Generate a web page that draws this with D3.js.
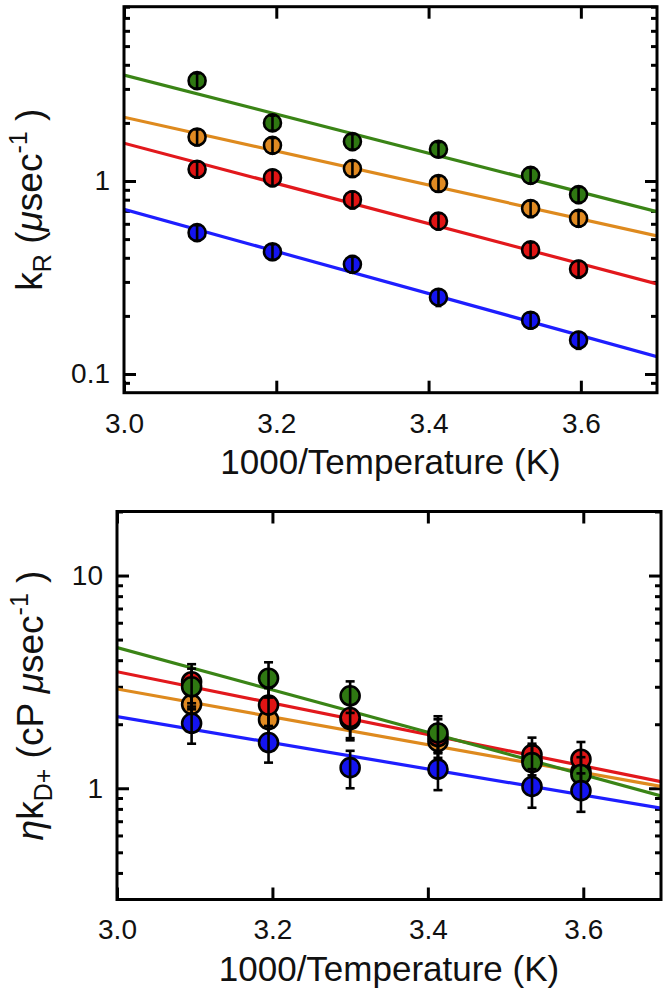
<!DOCTYPE html>
<html>
<head>
<meta charset="utf-8">
<script src="https://cdn.jsdelivr.net/npm/d3@7"></script>
<style>
  html, body { margin: 0; padding: 0; background: #fff; }
  svg { display: block; }
  text { font-family: "Liberation Sans", Arial, Helvetica, sans-serif; }
</style>
</head>
<body>
<svg id="chart" width="664" height="996"></svg>
<script>
// ---------- DATA ----------
const xTemp = [3.096, 3.195, 3.300, 3.413, 3.534, 3.597];   // 1000/T (K)
const seriesNames = ["green", "orange", "red", "blue"];
const seriesColors = { green: "#3a8416", orange: "#de8a1e", red: "#e2181c", blue: "#1e1eff" };
const fillColors   = { green: "#2f7812", orange: "#e08a22", red: "#e01414", blue: "#1414f0" };

// Top panel: k_R (usec^-1)
const kR_green  = [3.31, 2.00, 1.60, 1.46, 1.07, 0.85];
const kR_orange = [1.69, 1.53, 1.16, 0.97, 0.72, 0.64];
const kR_red    = [1.15, 1.04, 0.80, 0.62, 0.44, 0.35];
const kR_blue   = [0.54, 0.43, 0.37, 0.25, 0.19, 0.15];
const kRerr_green  = [0.30, 0.18, 0.15, 0.13, 0.10, 0.08];
const kRerr_orange = [0.16, 0.14, 0.11, 0.09, 0.07, 0.06];
const kRerr_red    = [0.11, 0.10, 0.08, 0.06, 0.04, 0.035];
const kRerr_blue   = [0.05, 0.04, 0.035, 0.025, 0.018, 0.015];
// fitted lines: values at x = 3.0 and x = 3.7
const fitX = [3.0, 3.7];
const kRfit_green  = [3.54, 0.693];
const kRfit_orange = [2.14, 0.519];
const kRfit_red    = [1.57, 0.293];
const kRfit_blue   = [0.713, 0.123];

// Bottom panel: eta*k_D+ (cP usec^-1)
const kD_green  = [3.00, 3.29, 2.72, 1.82, 1.32, 1.16];
const kD_orange = [2.48, 2.10, 2.10, 1.66, 1.35, 1.20];
const kD_red    = [3.17, 2.46, 2.15, 1.75, 1.44, 1.37];
const kD_blue   = [2.02, 1.64, 1.25, 1.23, 1.02, 0.975];
const kDerr_green  = [0.65, 0.62, 0.46, 0.36, 0.27, 0.24];
const kDerr_orange = [0.50, 0.42, 0.42, 0.34, 0.27, 0.24];
const kDerr_red    = [0.66, 0.50, 0.43, 0.36, 0.29, 0.28];
const kDerr_blue   = [0.40, 0.32, 0.25, 0.25, 0.21, 0.20];
const kDfit_green  = [4.59, 0.921];
const kDfit_orange = [2.93, 1.02];
const kDfit_red    = [3.53, 1.075];
const kDfit_blue   = [2.17, 0.806];

// Axes / ticks
const xDomain = [3.0, 3.7];
const xTickMajor = [3.0, 3.2, 3.4, 3.6];
const topYDomain = [0.08, 8];
const topYMajor = [0.1, 1];
const topYMinor = [0.09, 0.2, 0.3, 0.4, 0.5, 0.6, 0.7, 0.8, 0.9, 2, 3, 4, 5, 6, 7, 8];
const botYDomain = [0.3, 20];
const botYMajor = [1, 10];
const botYMinor = [0.4, 0.5, 0.6, 0.7, 0.8, 0.9, 2, 3, 4, 5, 6, 7, 8, 9, 20];

// ---------- DRAW ----------
const svg = d3.select("#chart");
const FONT = "'Liberation Sans', Arial, Helvetica, sans-serif";

function panel(cfg) {
  const { x0, x1, y0, y1 } = cfg;
  const x = d3.scaleLinear().domain(xDomain).range([x0, x1]);
  const y = d3.scaleLog().domain(cfg.yDomain).range([y1, y0]);
  const g = svg.append("g");
  const clipId = "clip" + cfg.id;
  svg.append("defs").append("clipPath").attr("id", clipId)
    .append("rect").attr("x", x0).attr("y", y0).attr("width", x1 - x0).attr("height", y1 - y0);

  // axes with inward ticks
  const axes = [
    { a: d3.axisLeft(y).tickValues(cfg.yMajor).tickSize(-12).tickPadding(14).tickFormat(d3.format("~g")), t: `translate(${x0},0)`, label: true },
    { a: d3.axisLeft(y).tickValues(cfg.yMinor).tickSize(-6).tickFormat(""), t: `translate(${x0},0)` },
    { a: d3.axisRight(y).tickValues(cfg.yMajor).tickSize(-12).tickFormat(""), t: `translate(${x1},0)` },
    { a: d3.axisRight(y).tickValues(cfg.yMinor).tickSize(-6).tickFormat(""), t: `translate(${x1},0)` },
    { a: d3.axisBottom(x).tickValues(xTickMajor).tickSize(-12).tickPadding(20).tickFormat(d3.format(".1f")), t: `translate(0,${y1})`, label: true },
    { a: d3.axisTop(x).tickValues(xTickMajor).tickSize(-12).tickFormat(""), t: `translate(0,${y0})` }
  ];
  axes.forEach(ax => {
    const ag = g.append("g").attr("transform", ax.t).call(ax.a);
    ag.select(".domain").remove();
    ag.selectAll(".tick line").attr("stroke", "#000").attr("stroke-width", 3);
    ag.selectAll(".tick text").attr("font-size", 28).attr("font-family", FONT).attr("fill", "#111");
  });

  const plot = g.append("g");
  const lines = plot.append("g").attr("clip-path", `url(#${clipId})`);
  const line = d3.line().x(d => x(d[0])).y(d => y(d[1]));

  cfg.order.forEach(name => {
    const s = cfg.series[name];
    const pts = xTemp.map((xv, i) => ({ x: xv, v: s.vals[i], e: s.err[i] }));
    const sg = plot.append("g");
    sg.selectAll("circle").data(pts).join("circle")
      .attr("cx", d => x(d.x)).attr("cy", d => y(d.v)).attr("r", cfg.r)
      .attr("fill", fillColors[name]).attr("stroke", "#000").attr("stroke-width", 2.6);
    sg.selectAll("line.eb").data(pts).join("line").attr("class", "eb")
      .attr("x1", d => x(d.x)).attr("x2", d => x(d.x))
      .attr("y1", d => y(d.v + d.e)).attr("y2", d => y(Math.max(d.v - d.e, 1e-3)))
      .attr("stroke", "#000").attr("stroke-width", 2.6);
    ["+", "-"].forEach(sgn => {
      sg.selectAll("line.cap" + (sgn === "+" ? "u" : "d")).data(pts).join("line")
        .attr("class", "cap" + (sgn === "+" ? "u" : "d"))
        .attr("x1", d => x(d.x) - cfg.cap).attr("x2", d => x(d.x) + cfg.cap)
        .attr("y1", d => y(sgn === "+" ? d.v + d.e : d.v - d.e))
        .attr("y2", d => y(sgn === "+" ? d.v + d.e : d.v - d.e))
        .attr("stroke", "#000").attr("stroke-width", 2.6);
    });
  });
  cfg.order.forEach(name => {
    const s = cfg.series[name];
    lines.append("path").datum(fitX.map((xv, i) => [xv, s.fit[i]]))
      .attr("d", line).attr("fill", "none").attr("stroke", seriesColors[name]).attr("stroke-width", 3.2);
  });

  // frame
  g.append("rect").attr("x", x0).attr("y", y0).attr("width", x1 - x0).attr("height", y1 - y0)
    .attr("fill", "none").attr("stroke", "#000").attr("stroke-width", 3);

  // x title
  g.append("text").attr("x", (x0 + x1) / 2).attr("y", y1 + 81).attr("text-anchor", "middle")
    .attr("font-size", 35).attr("fill", "#111").text("1000/Temperature (K)");

  // y title
  const yt = g.append("text").attr("transform", `translate(${cfg.ylabX},${(y0 + y1) / 2}) rotate(-90)`)
    .attr("text-anchor", "middle").attr("font-size", 37).attr("fill", "#111");
  cfg.ylabel(yt);
}

panel({
  id: "top", x0: 124, x1: 657, y0: 6.7, y1: 392.7, yDomain: topYDomain,
  yMajor: topYMajor, yMinor: topYMinor, r: 8.5, cap: 3, ylabX: 42,
  order: ["blue", "red", "orange", "green"],
  series: {
    green: { vals: kR_green, err: kRerr_green, fit: kRfit_green },
    orange: { vals: kR_orange, err: kRerr_orange, fit: kRfit_orange },
    red: { vals: kR_red, err: kRerr_red, fit: kRfit_red },
    blue: { vals: kR_blue, err: kRerr_blue, fit: kRfit_blue }
  },
  ylabel: t => {
    t.append("tspan").text("k");
    t.append("tspan").attr("font-size", 25).attr("dy", 9).text("R");
    t.append("tspan").attr("dy", -9).text(" (");
    t.append("tspan").attr("font-style", "italic").text("\u03bc");
    t.append("tspan").text("sec");
    t.append("tspan").attr("font-size", 25).attr("dy", -15).text("-1");
    t.append("tspan").attr("dy", 15).text(" )");
  }
});

panel({
  id: "bot", x0: 117, x1: 661, y0: 511.5, y1: 899.5, yDomain: botYDomain,
  yMajor: botYMajor, yMinor: botYMinor, r: 9.5, cap: 4.5, ylabX: 43,
  order: ["orange", "red", "green", "blue"],
  series: {
    green: { vals: kD_green, err: kDerr_green, fit: kDfit_green },
    orange: { vals: kD_orange, err: kDerr_orange, fit: kDfit_orange },
    red: { vals: kD_red, err: kDerr_red, fit: kDfit_red },
    blue: { vals: kD_blue, err: kDerr_blue, fit: kDfit_blue }
  },
  ylabel: t => {
    t.append("tspan").attr("font-style", "italic").text("\u03b7");
    t.append("tspan").text("k");
    t.append("tspan").attr("font-size", 25).attr("dy", 9).text("D+");
    t.append("tspan").attr("dy", -9).text(" (cP ");
    t.append("tspan").attr("font-style", "italic").text("\u03bc");
    t.append("tspan").text("sec");
    t.append("tspan").attr("font-size", 25).attr("dy", -15).text("-1");
    t.append("tspan").attr("dy", 15).text(" )");
  }
});
</script>
</body>
</html>
